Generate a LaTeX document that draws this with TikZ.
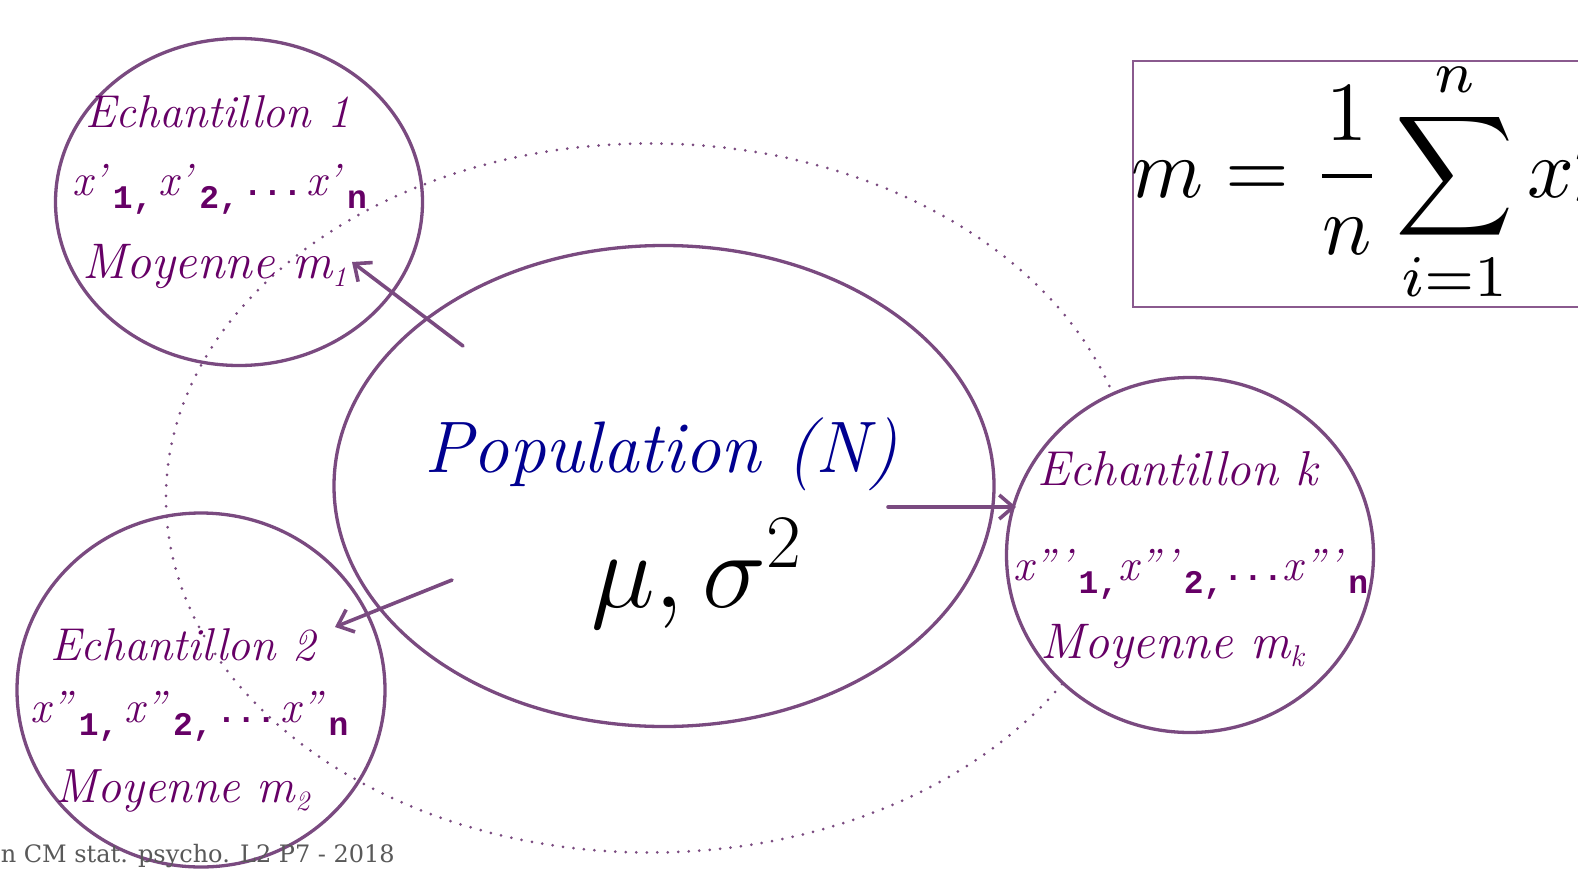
\RequirePackage{fix-cm}
\documentclass[tikz,border=0pt]{standalone}
\usepackage{graphicx}
\usepackage{fontspec}
\newfontfamily\cour{Liberation Mono}
\newfontfamily\foot{DejaVu Serif}
\usetikzlibrary{shapes.geometric,arrows.meta}
\definecolor{outl}{HTML}{7A4A80}
\definecolor{txt}{HTML}{660066}
\definecolor{navyc}{HTML}{000090}
\definecolor{footc}{HTML}{595959}
\definecolor{boxc}{HTML}{8A5A8E}
\newcommand\chanc{\itshape}
\newcommand\cs[1]{\fontsize{#1}{#1}\selectfont}
\newcommand\xp[2]{{\chanc\cs{45}x#1}\hspace{7pt}\raisebox{-13pt}{\cour\upshape\bfseries\cs{33}#2}}
\newcommand\mdots{{\cour\upshape\bfseries\cs{33}...}}
\tikzset{
  samp/.style={ellipse, draw=outl, line width=3.3pt, fill=white, inner sep=0pt},
  orbitline/.style={ellipse, draw=outl, line width=3pt, line cap=round, dash pattern=on 0pt off 10.5pt, inner sep=0pt},
  arr/.style={draw=outl, line width=3.6pt, line cap=round, -{Straight Barb[length=14pt,width=24pt]}},
  txtn/.style={inner sep=0pt, text=txt, font=\chanc},
}
\begin{document}
\begin{tikzpicture}[x=1pt,y=-1pt]
\useasboundingbox (0,0) rectangle (1578,870);
\fill[white] (0,0) rectangle (1578,870);
\begin{scope}
\clip (0,0) rectangle (1578,870);
% population
\node[samp, minimum width=660pt, minimum height=481pt] (pop) at (664,486) {};
% samples 1 and 2
\node[samp, minimum width=367pt, minimum height=327pt] (s1) at (239,202) {};
\node[samp, minimum width=368pt, minimum height=354pt] (s2) at (201,690) {};
% dotted orbit
\node[orbitline, minimum width=968pt, minimum height=709pt] (orbit) at (650,498) {};
% sample k
\node[samp, minimum width=367pt, minimum height=355pt] (sk) at (1190,555) {};
% formula box
\node[draw=boxc, line width=1.8pt, minimum width=520pt, minimum height=246pt, anchor=north west, inner sep=0pt] (fbox) at (1132,60) {};
\node[anchor=base west, inner sep=0pt] (formula) at (1131,197) {\scalebox{8.2}[8.4]{$\displaystyle m=\frac{1}{n}\sum_{i=1}^{n}x'_i$}};
% arrows
\coordinate (a1s) at (463,346); \coordinate (a1e) at (352,262);
\coordinate (a2s) at (452,580); \coordinate (a2e) at (335,627);
\coordinate (a3s) at (888,507); \coordinate (a3e) at (1016,507);
\draw[arr] (a1s) -- (a1e);
\draw[arr] (a2s) -- (a2e);
\draw[arr] (a3s) -- (a3e);
% population text
\node[inner sep=0pt, anchor=base west, text=navyc, font=\chanc] (poptxt) at (424,472) {\cs{73}Population (N)};
\node[inner sep=0pt, anchor=base west] (params) at (591,607) {\fontsize{108}{118}\selectfont$\mu,\sigma^2$};
% sample 1
\node[txtn, anchor=base west] (e1) at (85,127) {\cs{46}Echantillon 1};
\node[txtn, anchor=base west] (x1) at (72,195) {\xp{'}{1,}\hspace{6pt}\xp{'}{2,}\hspace{4pt}\mdots\hspace{4pt}\xp{'}{n}};
\node[txtn, anchor=base west] (m1) at (82,278) {{\cs{50}Moyenne m}\raisebox{-8pt}{\cs{28}1}};
% sample 2
\node[txtn, anchor=base west] (e2) at (50,660) {\cs{46}Echantillon 2};
\node[txtn, anchor=base west] (x2) at (30,722) {\xp{''}{1,}\hspace{6pt}\xp{''}{2,}\hspace{4pt}\mdots\hspace{4pt}\xp{''}{n}};
\node[txtn, anchor=base west] (m2) at (55,802) {{\cs{48}Moyenne m}\raisebox{-8pt}{\cs{28}2}};
% sample k
\node[txtn, anchor=base west] (ek) at (1037,485) {\cs{49}Echantillon k};
\node[txtn, anchor=base west] (xk) at (1013,580) {\xp{'''}{1,}\xp{'''}{2,}\mdots\xp{'''}{n}};
\node[txtn, anchor=base west] (mk) at (1040,658) {{\cs{50}Moyenne m}\raisebox{-8pt}{\cs{30}k}};
% footer
\node[inner sep=0pt, anchor=base east, text=footc, font=\foot] (footer) at (395,862) {\cs{24}n CM stat. psycho. L2 P7 - 2018};
\end{scope}
\end{tikzpicture}
\end{document}
